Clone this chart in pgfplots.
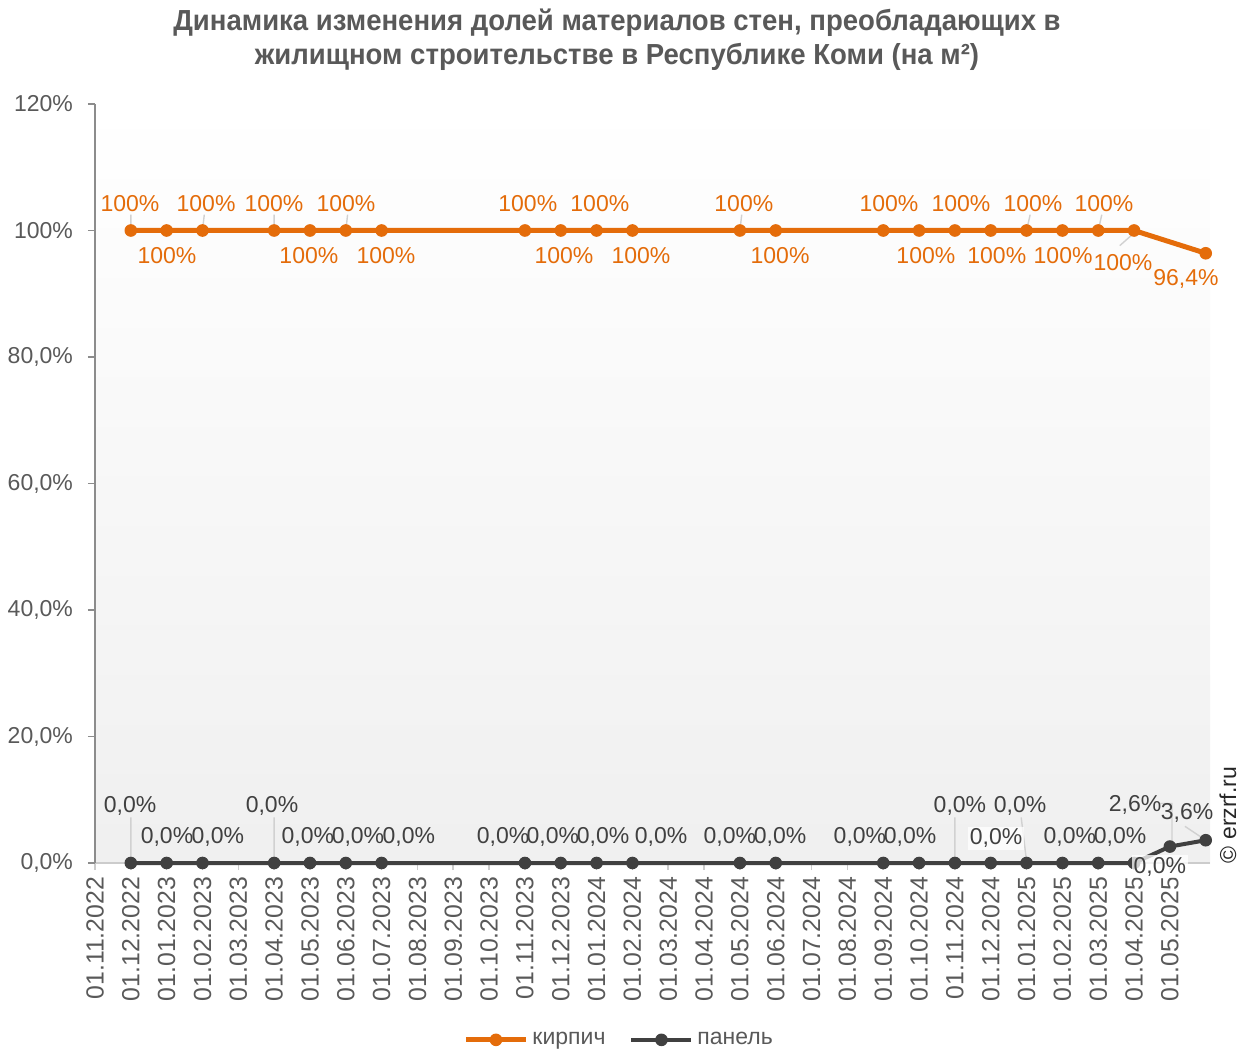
\documentclass[border=0pt]{standalone}
\usepackage{fontspec}
\setmainfont{Liberation Sans}
\newfontfamily\titlefont[FakeStretch=0.95]{Liberation Sans}
\usepackage{pgfplots}
\pgfplotsset{compat=1.18}
\definecolor{orgc}{RGB}{228,108,10}
\definecolor{drk}{RGB}{64,64,64}
\definecolor{txt}{RGB}{89,89,89}
\begin{document}
\begin{tikzpicture}
\path[use as bounding box] (0,0) rectangle (624pt,525.5pt);
\node[font=\titlefont\bfseries\fontsize{14.5}{16}\selectfont, text=txt] at (308.5pt,514pt) {Динамика изменения долей материалов стен, преобладающих в};
\node[font=\titlefont\bfseries\fontsize{14.5}{16}\selectfont, text=txt] at (308.5pt,497pt) {жилищном строительстве в Республике Коми (на м²)};
\node[rotate=90, font=\fontsize{11.5}{13}\selectfont, text=black!85] at (614pt,118pt) {© erzrf.ru};
\begin{axis}[
  at={(47.5pt,94pt)}, anchor=south west,
  width=557.5pt, height=379.5pt, scale only axis,
  xmin=0, xmax=31.12, ymin=0, ymax=120,
  clip=false,
  axis x line=bottom, axis y line=left,
  x axis line style={-, draw=black!20, line width=0.8pt},
  y axis line style={-, draw=black!45, line width=0.8pt},
  axis background/.style={shade, top color=white, bottom color=black!6},
  tick align=outside, major tick length=3.5pt,
  xtick={0,...,30},
  xticklabels={01.11.2022,01.12.2022,01.01.2023,01.02.2023,01.03.2023,01.04.2023,01.05.2023,01.06.2023,01.07.2023,01.08.2023,01.09.2023,01.10.2023,01.11.2023,01.12.2023,01.01.2024,01.02.2024,01.03.2024,01.04.2024,01.05.2024,01.06.2024,01.07.2024,01.08.2024,01.09.2024,01.10.2024,01.11.2024,01.12.2024,01.01.2025,01.02.2025,01.03.2025,01.04.2025,01.05.2025},
  x tick style={draw=black!20, line width=0.8pt},
  y tick style={draw=black!45, line width=0.8pt},
  x tick label style={rotate=90, anchor=east, font=\fontsize{12.4}{14}\selectfont, text=txt, xshift=0pt},
  ytick={0,20,40,60,80,100,120},
  yticklabels={{0,0\%},{20,0\%},{40,0\%},{60,0\%},{80,0\%},{100\%},{120\%}},
  y tick label style={font=\fontsize{11.5}{13}\selectfont, text=txt, xshift=-4pt},
  /pgf/number format/assume math mode=true,
  legend style={at={(0.471,-0.233)}, anchor=center, draw=none, fill=none, legend columns=2,
    font=\fontsize{11.5}{13}\selectfont, text=txt, /tikz/every even column/.append style={column sep=10pt}},
  legend image code/.code={\draw[mark repeat=2,mark phase=2,#1] plot coordinates {(0pt,0pt) (15pt,0pt) (30pt,0pt)};},
]
% leader lines
\addplot[forget plot, draw=black!18, line width=0.7pt, unbounded coords=jump] coordinates {
 (1,7.2) (1,0) (1,nan)
 (5,7.2) (5,0) (5,nan)
 (24,7.2) (24,0) (24,nan)
 (25.85,7.2) (26,0.3) (26,nan)
 (29.72,9.4) (30.06,9.4) (30.06,2.6) (30.06,nan)
 (30.42,5.8) (31,3.6) (31,nan)
 (28.6,97.6) (29,99.6) (29,nan)
 (1,102.5) (1,100) (1,nan)
 (3.05,102.5) (3,100) (3,nan)
 (5,102.5) (5,100) (5,nan)
 (7.05,102.5) (7,100) (7,nan)
 (18.05,102.5) (18,100) (18,nan)
 (26.1,102.5) (26,100) (26,nan)
 (28.1,102.5) (28,100) (28,nan)
};
\addplot[color=orgc, line width=2.5pt, mark=*, mark size=2.9pt, mark options={solid, line width=0.5pt}] coordinates {
 (1,100) (2,100) (3,100) (5,100) (6,100) (7,100) (8,100) (12,100) (13,100) (14,100) (15,100)
 (18,100) (19,100) (22,100) (23,100) (24,100) (25,100) (26,100) (27,100) (28,100) (29,100) (31,96.4)
};
\addlegendentry{кирпич}
\addplot[color=drk, line width=2pt, mark=*, mark size=2.9pt, mark options={solid, line width=0.5pt}] coordinates {
 (1,0) (2,0) (3,0) (5,0) (6,0) (7,0) (8,0) (12,0) (13,0) (14,0) (15,0)
 (18,0) (19,0) (22,0) (23,0) (24,0) (25,0) (26,0) (27,0) (28,0) (29,0) (30,2.6) (31,3.6)
};
\addlegendentry{панель}
% orange labels
\addplot[forget plot, draw=none, nodes near coords, point meta=explicit symbolic,
  nodes near coords style={anchor=center, font=\fontsize{11.5}{13}\selectfont, text=orgc, inner sep=0.5pt}] coordinates {
 (0.977,104.3) [100\%] (3.10,104.3) [100\%] (4.996,104.3) [100\%] (7.005,104.3) [100\%]
 (12.08,104.3) [100\%] (14.09,104.3) [100\%] (18.11,104.3) [100\%] (22.16,104.3) [100\%]
 (24.17,104.3) [100\%] (26.18,104.3) [100\%] (28.16,104.3) [100\%]
 (2.01,96.0) [100\%] (5.97,96.0) [100\%] (8.12,96.0) [100\%] (13.09,96.0) [100\%]
 (15.24,96.0) [100\%] (19.12,96.0) [100\%] (23.19,96.0) [100\%] (25.17,96.0) [100\%]
 (27.02,96.0) [100\%] (28.69,95.0) [100\%] (30.45,92.3) [{96,4\%}]
};
% dark labels
\addplot[forget plot, draw=none, nodes near coords, point meta=explicit symbolic,
  nodes near coords style={anchor=center, font=\fontsize{11.5}{13}\selectfont, text=drk, inner sep=0.5pt}] coordinates {
 (0.98,9.0) [{0,0\%}] (4.94,9.0) [{0,0\%}] (24.14,9.0) [{0,0\%}] (25.82,9.0) [{0,0\%}]
 (2.01,4.1) [{0,0\%}] (3.43,4.1) [{0,0\%}] (5.94,4.1) [{0,0\%}] (7.34,4.1) [{0,0\%}]
 (8.76,4.1) [{0,0\%}] (11.39,4.1) [{0,0\%}] (12.78,4.1) [{0,0\%}] (14.18,4.1) [{0,0\%}]
 (15.80,4.1) [{0,0\%}] (17.72,4.1) [{0,0\%}] (19.12,4.1) [{0,0\%}] (21.35,4.1) [{0,0\%}]
 (22.75,4.1) [{0,0\%}] (27.21,4.1) [{0,0\%}] (28.61,4.1) [{0,0\%}]
 (29.03,9.17) [{2,6\%}] (30.48,7.9) [{3,6\%}]
};
\addplot[forget plot, draw=none, nodes near coords, point meta=explicit symbolic,
  nodes near coords style={anchor=center, font=\fontsize{11.5}{13}\selectfont, text=drk, inner sep=1pt, fill=white, fill opacity=0.75, text opacity=1}] coordinates {
 (25.15,3.95) [{0,0\%}] (29.72,-0.63) [{0,0\%}]
};
\end{axis}
\end{tikzpicture}
\end{document}
